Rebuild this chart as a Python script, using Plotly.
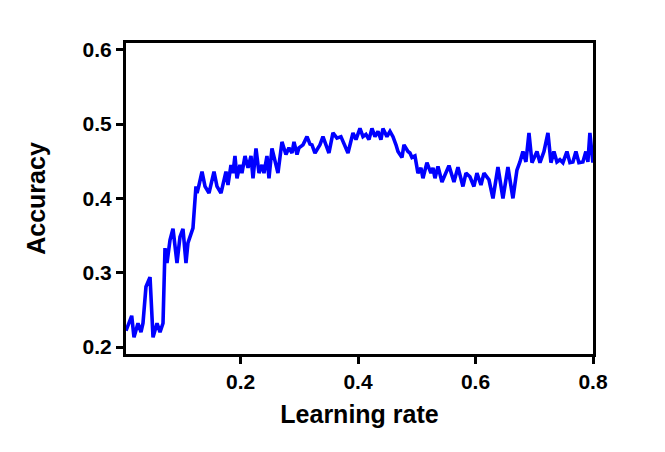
import plotly.graph_objects as go

# learning rate vs accuracy
learning_rate = [
    0.005, 0.0147, 0.0186, 0.0254, 0.0305, 0.0339, 0.039, 0.0459, 0.051, 0.0578,
    0.0629, 0.068, 0.0714, 0.0748, 0.0799, 0.085, 0.0918, 0.0969, 0.102, 0.1071,
    0.1105, 0.119, 0.1241, 0.1259, 0.1293, 0.1344, 0.1395, 0.1463, 0.1548, 0.1599,
    0.1667, 0.1752, 0.1786, 0.1837, 0.1871, 0.1905, 0.1939, 0.199, 0.2024, 0.2076,
    0.2127, 0.2178, 0.2212, 0.2263, 0.2314, 0.2365, 0.2399, 0.245, 0.2484, 0.2535,
    0.2603, 0.2637, 0.2705, 0.2773, 0.2824, 0.2876, 0.291, 0.2961, 0.2995, 0.3063,
    0.3131, 0.3182, 0.3216, 0.3267, 0.3352, 0.3403, 0.3454, 0.3505, 0.3573, 0.3641,
    0.3709, 0.3777, 0.3829, 0.3914, 0.3965, 0.4033, 0.4084, 0.4135, 0.4186, 0.4237,
    0.4288, 0.4339, 0.439, 0.4424, 0.4492, 0.4544, 0.4595, 0.4646, 0.468, 0.4748,
    0.4782, 0.485, 0.4884, 0.4918, 0.4969, 0.502, 0.5071, 0.5105, 0.5173, 0.5241,
    0.5276, 0.531, 0.5361, 0.5429, 0.5548, 0.5633, 0.5701, 0.5786, 0.5837, 0.5905,
    0.5973, 0.6024, 0.6093, 0.6144, 0.6195, 0.6229, 0.6297, 0.6382, 0.6467, 0.6552,
    0.6637, 0.6705, 0.6756, 0.6807, 0.6858, 0.691, 0.6961, 0.7046, 0.7097, 0.7165,
    0.7233, 0.7284, 0.7335, 0.7386, 0.7437, 0.7488, 0.7556, 0.7607, 0.7658, 0.7709,
    0.776, 0.7828, 0.7879, 0.7913, 0.7947, 0.7998,
]
accuracy = [
    0.222, 0.242, 0.213, 0.232, 0.22, 0.232, 0.281, 0.294, 0.213, 0.232,
    0.22, 0.232, 0.333, 0.313, 0.344, 0.359, 0.313, 0.348, 0.359, 0.313,
    0.34, 0.36, 0.416, 0.407, 0.418, 0.436, 0.416, 0.407, 0.436, 0.416,
    0.407, 0.436, 0.418, 0.445, 0.434, 0.457, 0.427, 0.445, 0.434, 0.457,
    0.441, 0.457, 0.427, 0.467, 0.434, 0.445, 0.434, 0.457, 0.427, 0.467,
    0.445, 0.434, 0.476, 0.459, 0.468, 0.461, 0.476, 0.459, 0.468, 0.472,
    0.483, 0.473, 0.472, 0.461, 0.472, 0.483, 0.472, 0.461, 0.488, 0.481,
    0.483, 0.472, 0.461, 0.488, 0.479, 0.494, 0.483, 0.486, 0.479, 0.494,
    0.483, 0.49, 0.479, 0.494, 0.483, 0.49, 0.483, 0.472, 0.463, 0.455,
    0.472, 0.463, 0.461, 0.455, 0.457, 0.434, 0.441, 0.427, 0.448, 0.434,
    0.441, 0.427, 0.443, 0.422, 0.444, 0.422, 0.442, 0.416, 0.434, 0.429,
    0.416, 0.434, 0.418, 0.434, 0.429, 0.425, 0.40, 0.442, 0.40, 0.442,
    0.40, 0.438, 0.449, 0.463, 0.449, 0.488, 0.448, 0.463, 0.448, 0.463,
    0.488, 0.448, 0.463, 0.449, 0.452, 0.448, 0.463, 0.448, 0.449, 0.463,
    0.448, 0.449, 0.463, 0.449, 0.488, 0.448,
]
x_ticks = [0.2, 0.4, 0.6, 0.8]
y_ticks = [0.2, 0.3, 0.4, 0.5, 0.6]

fig = go.Figure()
fig.add_trace(go.Scatter(
    x=learning_rate,
    y=accuracy,
    mode='lines',
    line=dict(color='#0000ff', width=3.6),
    showlegend=False,
))

axis_style = dict(
    showline=True,
    linecolor='black',
    linewidth=3,
    mirror=True,
    ticks='outside',
    ticklen=7,
    tickwidth=3,
    tickcolor='black',
    showgrid=False,
    zeroline=False,
    automargin=False,
    tickfont=dict(family='Liberation Sans', size=21, color='black', weight='bold'),
)
title_font = dict(family='Liberation Sans', size=25, color='black', weight='bold')

fig.update_xaxes(
    range=[0.005, 0.8],
    tickvals=x_ticks,
    ticktext=[f'{v:.1f}' for v in x_ticks],
    title=dict(text='Learning rate', font=title_font, standoff=14),
    **axis_style,
)
fig.update_yaxes(
    range=[0.1906, 0.609],
    tickvals=y_ticks,
    ticktext=[f'{v:.1f}' for v in y_ticks],
    title=dict(text='Accuracy', font=title_font, standoff=30),
    **axis_style,
)

# the page body adds 8px, so the figure is a bit smaller than the window
fig.update_layout(
    width=657,
    height=444,
    margin=dict(l=118, r=72, t=35, b=98),
    plot_bgcolor='white',
    paper_bgcolor='white',
)

fig.write_html('out.html')
